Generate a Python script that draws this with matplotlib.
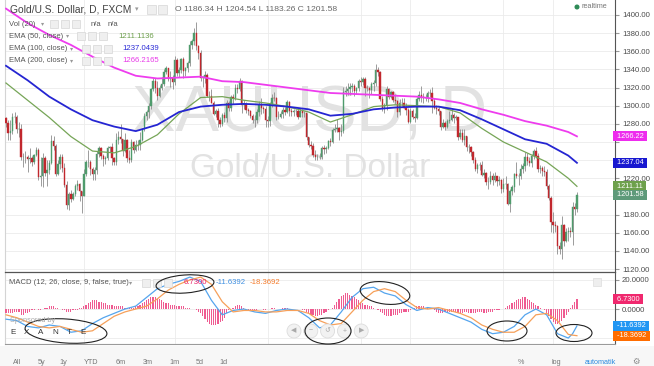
import matplotlib
matplotlib.use("Agg")
import matplotlib.pyplot as plt
from matplotlib.patches import Ellipse, Rectangle, Circle
from matplotlib.transforms import blended_transform_factory
import numpy as np
import pandas as pd

plt.rcParams['font.family'] = ['Liberation Sans', 'DejaVu Sans']

# daily FXCM bars, no bars on Dec 25 / Jan 1
dates = pd.bdate_range('2013-11-11', '2014-11-18')
dates = dates[~dates.isin(pd.to_datetime(['2013-12-25', '2014-01-01']))]

opens = [
    1286, 1281, 1270, 1272, 1287, 1288, 1274, 1274, 1243, 1243, 1244, 1241, 1242, 1238, 1246,
    1251, 1221, 1222, 1242, 1226, 1229, 1237, 1261, 1256, 1225, 1236, 1244, 1231, 1213, 1190, 1203, 1197, 1203, 1211, 1214, 1206,
    1201, 1225, 1238, 1238, 1230, 1225, 1229, 1247, 1253, 1245, 1241, 1242, 1253, 1254, 1242, 1238, 1262, 1266, 1263, 1250, 1262, 1242,
    1240, 1260, 1251, 1257, 1257, 1262, 1274, 1289, 1293, 1300, 1318, 1327, 1320, 1311, 1320, 1324, 1337, 1341, 1329, 1331,
    1326, 1350, 1336, 1339, 1351, 1338, 1341, 1347, 1367, 1371, 1380, 1366, 1358, 1330, 1331, 1334, 1311, 1311, 1303, 1291, 1294,
    1284, 1280, 1290, 1286, 1303, 1298, 1310, 1308, 1320, 1318, 1327, 1301, 1302, 1295, 1294, 1289, 1284, 1284, 1293, 1301, 1297, 1296,
    1284, 1283, 1302, 1309, 1308, 1288, 1288, 1291, 1295, 1293, 1304, 1294, 1293, 1294, 1294, 1288, 1294, 1292, 1292, 1265, 1257, 1256,
    1246, 1244, 1244, 1244, 1253, 1252, 1253, 1261, 1260, 1273, 1274, 1275, 1271, 1272, 1315, 1316, 1318, 1321, 1322, 1316, 1319,
    1327, 1326, 1329, 1320, 1319, 1317, 1324, 1325, 1339, 1337, 1307, 1297, 1301, 1318, 1310, 1315, 1306, 1305, 1293, 1303, 1303, 1298, 1295,
    1282, 1294, 1288, 1286, 1307, 1312, 1310, 1309, 1309, 1314, 1314, 1305, 1298, 1296, 1294, 1277, 1281, 1277, 1283, 1284, 1290,
    1286, 1287, 1265, 1270, 1262, 1267, 1254, 1254, 1249, 1240, 1230, 1235, 1235, 1224, 1226, 1216, 1216, 1222, 1218, 1222, 1217, 1218,
    1208, 1214, 1214, 1192, 1206, 1210, 1225, 1222, 1222, 1230, 1234, 1243, 1239, 1237, 1245, 1250, 1245, 1230, 1231, 1228, 1227, 1212, 1198,
    1172, 1169, 1167, 1145, 1142, 1169, 1151, 1161, 1162, 1161, 1188, 1186.34,
]
highs = [
    1287, 1284, 1284, 1292, 1293, 1290, 1282, 1280, 1248, 1250, 1246, 1253, 1245, 1247, 1255,
    1253, 1243, 1248, 1245, 1240, 1240, 1268, 1267, 1258, 1240, 1247, 1247, 1237, 1217, 1205, 1207, 1205, 1214, 1218, 1215, 1206,
    1230, 1240, 1251, 1240, 1232, 1232, 1250, 1256, 1255, 1247, 1245, 1256, 1256, 1259, 1244, 1270, 1272, 1280, 1263, 1270, 1263, 1251,
    1263, 1261, 1262, 1262, 1271, 1275, 1292, 1295, 1303, 1320, 1331, 1331, 1327, 1323, 1332, 1340, 1344, 1342, 1338, 1334,
    1355, 1353, 1343, 1353, 1354, 1343, 1349, 1371, 1373, 1386, 1392, 1367, 1361, 1333, 1338, 1336, 1316, 1318, 1305, 1296, 1298,
    1288, 1292, 1293, 1306, 1305, 1312, 1313, 1324, 1324, 1331, 1328, 1306, 1304, 1297, 1295, 1291, 1290, 1296, 1305, 1308, 1300, 1300,
    1289, 1304, 1313, 1315, 1310, 1294, 1294, 1299, 1299, 1306, 1305, 1298, 1296, 1296, 1297, 1298, 1296, 1294, 1292, 1266, 1261, 1259,
    1251, 1247, 1248, 1256, 1257, 1256, 1262, 1264, 1275, 1280, 1285, 1277, 1280, 1321, 1322, 1325, 1325, 1325, 1324, 1321, 1329,
    1332, 1332, 1332, 1323, 1321, 1326, 1328, 1346, 1343, 1338, 1311, 1303, 1322, 1320, 1316, 1316, 1313, 1306, 1307, 1309, 1308, 1303, 1297,
    1297, 1296, 1292, 1310, 1316, 1322, 1314, 1313, 1316, 1318, 1321, 1308, 1301, 1299, 1294, 1285, 1283, 1285, 1294, 1297, 1292,
    1290, 1288, 1274, 1274, 1274, 1267, 1258, 1256, 1250, 1243, 1237, 1238, 1239, 1230, 1227, 1221, 1228, 1226, 1227, 1223, 1222, 1219,
    1220, 1223, 1215, 1208, 1213, 1226, 1238, 1226, 1236, 1237, 1249, 1248, 1244, 1247, 1252, 1255, 1248, 1235, 1234, 1234, 1230, 1214, 1200,
    1183, 1173, 1169, 1150, 1178, 1170, 1165, 1166, 1166, 1194, 1193, 1204.54,
]
lows = [
    1276, 1262, 1262, 1269, 1281, 1270, 1266, 1240, 1232, 1237, 1227, 1237, 1234, 1236, 1245,
    1218, 1211, 1210, 1223, 1211, 1225, 1236, 1251, 1223, 1224, 1230, 1227, 1210, 1186, 1185, 1194, 1196, 1200, 1207, 1195, 1182,
    1201, 1223, 1232, 1224, 1218, 1218, 1225, 1244, 1241, 1234, 1236, 1240, 1249, 1235, 1235, 1235, 1258, 1259, 1245, 1249, 1238, 1237,
    1238, 1248, 1250, 1251, 1251, 1261, 1272, 1284, 1286, 1296, 1316, 1314, 1306, 1310, 1317, 1322, 1335, 1327, 1321, 1318,
    1323, 1333, 1332, 1336, 1331, 1333, 1337, 1344, 1363, 1367, 1361, 1352, 1327, 1321, 1325, 1310, 1305, 1303, 1290, 1288, 1277,
    1277, 1278, 1282, 1282, 1294, 1294, 1302, 1306, 1314, 1316, 1292, 1296, 1292, 1290, 1286, 1281, 1277, 1281, 1289, 1291, 1292, 1277,
    1277, 1278, 1299, 1305, 1284, 1285, 1286, 1286, 1290, 1292, 1289, 1289, 1289, 1290, 1285, 1287, 1288, 1288, 1262, 1255, 1252, 1244,
    1240, 1240, 1241, 1241, 1247, 1248, 1252, 1256, 1259, 1271, 1271, 1262, 1267, 1270, 1311, 1312, 1312, 1315, 1311, 1313, 1316,
    1322, 1323, 1311, 1316, 1309, 1313, 1316, 1322, 1333, 1305, 1294, 1292, 1295, 1307, 1308, 1304, 1302, 1288, 1290, 1300, 1297, 1290, 1281,
    1281, 1285, 1282, 1285, 1305, 1304, 1303, 1305, 1304, 1310, 1292, 1296, 1291, 1290, 1273, 1275, 1273, 1275, 1281, 1283, 1281,
    1284, 1262, 1263, 1260, 1257, 1250, 1248, 1245, 1237, 1228, 1226, 1229, 1222, 1220, 1213, 1208, 1214, 1213, 1216, 1211, 1213, 1204,
    1205, 1208, 1190, 1183, 1202, 1205, 1220, 1213, 1219, 1226, 1228, 1235, 1233, 1232, 1241, 1242, 1227, 1226, 1222, 1222, 1208, 1196, 1161,
    1160, 1161, 1137, 1137, 1131, 1145, 1150, 1151, 1155, 1146, 1180, 1183.26,
]
closes = [
    1281, 1270, 1272, 1287, 1288, 1274, 1274, 1243, 1243, 1244, 1241, 1242, 1238, 1246, 1251,
    1221, 1222, 1242, 1226, 1229, 1237, 1261, 1256, 1225, 1236, 1244, 1231, 1213, 1190, 1203, 1197, 1203, 1211, 1214, 1206, 1201,
    1225, 1238, 1238, 1230, 1225, 1229, 1247, 1253, 1245, 1241, 1242, 1253, 1254, 1242, 1238, 1262, 1266, 1263, 1250, 1262, 1242, 1240,
    1260, 1251, 1257, 1257, 1262, 1274, 1289, 1293, 1300, 1318, 1327, 1320, 1311, 1320, 1324, 1337, 1341, 1329, 1331, 1326,
    1350, 1336, 1339, 1351, 1338, 1341, 1347, 1367, 1371, 1380, 1366, 1358, 1330, 1331, 1334, 1311, 1311, 1303, 1291, 1294, 1284,
    1280, 1290, 1286, 1303, 1298, 1310, 1308, 1320, 1318, 1327, 1301, 1302, 1295, 1294, 1289, 1284, 1284, 1293, 1301, 1297, 1296, 1284,
    1283, 1302, 1309, 1308, 1288, 1288, 1291, 1295, 1293, 1304, 1294, 1293, 1294, 1294, 1288, 1294, 1292, 1292, 1265, 1257, 1256, 1246,
    1244, 1244, 1244, 1253, 1252, 1253, 1261, 1260, 1273, 1274, 1275, 1271, 1272, 1315, 1316, 1318, 1321, 1322, 1316, 1319, 1327,
    1326, 1329, 1320, 1319, 1317, 1324, 1325, 1339, 1337, 1307, 1297, 1301, 1318, 1310, 1315, 1306, 1305, 1293, 1303, 1303, 1298, 1295, 1282,
    1294, 1288, 1286, 1307, 1312, 1310, 1309, 1309, 1314, 1314, 1305, 1298, 1296, 1294, 1277, 1281, 1277, 1283, 1284, 1290, 1286,
    1287, 1265, 1270, 1262, 1267, 1254, 1254, 1249, 1240, 1230, 1235, 1235, 1224, 1226, 1216, 1216, 1222, 1218, 1222, 1217, 1218, 1208,
    1214, 1214, 1192, 1206, 1210, 1225, 1222, 1222, 1230, 1234, 1243, 1239, 1237, 1245, 1250, 1245, 1230, 1231, 1228, 1227, 1212, 1198, 1172,
    1169, 1167, 1145, 1142, 1169, 1151, 1161, 1162, 1161, 1188, 1186, 1201.58,
]

# moving averages every 10 bars
ema_bars = [0, 10, 20, 30, 40, 50, 60, 70, 80, 90, 100, 110, 120, 130, 140,
            150, 160, 170, 180, 190, 200, 210, 220, 230, 240, 250, 260, 264]
ema50 = [1325, 1306, 1287, 1266, 1250, 1248, 1255, 1268, 1291, 1309, 1310, 1306, 1303, 1299, 1293,
         1282, 1290, 1299, 1301, 1300, 1299, 1292, 1275, 1260, 1249, 1238, 1220, 1211.1136]
ema100 = [1344, 1328, 1310, 1296, 1284, 1277, 1272, 1279, 1293, 1299, 1301, 1302, 1301, 1299, 1296,
          1289, 1291, 1296, 1298, 1299, 1299, 1295, 1285, 1274, 1263, 1258, 1245, 1237.0439]
ema200 = [1407, 1391, 1378, 1367, 1354, 1342, 1333, 1330, 1331, 1332, 1327, 1326, 1323, 1320, 1317,
          1314, 1313, 1312, 1311, 1310, 1307, 1303, 1296, 1290, 1283, 1278, 1271, 1266.2165]

# MACD (12, 26, 9)
macd_bars = [0, 5, 10, 15, 20, 25, 30, 35, 40, 45, 50, 55, 60, 65, 70, 75, 80, 85, 90, 95,
             100, 105, 110, 115, 120, 125, 130, 135, 140, 145, 150, 155, 160, 165, 170, 175, 180, 185, 190, 195,
             200, 205, 210, 215, 220, 225, 230, 235, 240, 245, 250, 255, 260, 262, 264]
macd = [-7, -8, -12, -13, -11, -12, -16, -15, -10, -6, -3, 0, 2, 8, 14, 17, 19, 22, 19, 6,
        -4, -1, 0, -2, -3, -1, 0, -1, -6, -13, -11, -2, 8, 14, 15, 11, 9, 3, -1, 1,
        0, -3, -6, -9, -14, -17, -16, -12, -4, 0, -4, -17, -20, -17, -11.6392]
signal = [-4, -6, -9, -12, -13, -12, -14, -16, -15, -10, -5, -2, 0, 2, 7, 13, 17, 20, 22, 17,
          5, -2, -1, -1, -2, -2, -1, -1, -3, -8, -11, -10, -2, 6, 12, 14, 12, 6, 1, 0,
          1, -1, -3, -6, -11, -14, -16, -16, -12, -4, -3, -8, -17.5, -18, -18.3692]
hist = [-3, -3, -3, -3, -2, -2, -2, -4, -4, -3, -3,
        -2, -1, -1, 0, -1, -1, 0,
        1, 1, 2, 2, 2, 1, 1,
        0, -1, -1, -2, -2, -2, -1, -1, -1,
        1, 1, 2, 3, 4, 5, 6, 6, 6, 5, 5, 4, 4, 3, 3, 3, 2, 2, 2,
        2, 2, 1, 1, 1, 1, 1, 2, 2, 3,
        4, 5, 6, 7, 8, 8, 8, 7, 7, 6, 5, 4,
        4, 3, 3, 3, 2, 2, 2, 2, 1, 1,
        1, 0, 0, -1, -2, -3,
        -5, -7, -9, -10, -11, -11, -11, -10, -9, -8, -6, -3,
        -1, 0,
        1, 2, 3, 3, 2, 1,
        0, -1, -1, -1, -1, -1, 0, 0, -1, -1, 0,
        0, 1, 1, 0, 0, 0, 1, 1, 1, 0, 0, 0, 0, 0, 0,
        -1, -1, -2, -3, -4, -4, -5, -5, -4, -4, -3, -2, -1, 0,
        1, 3, 5, 7, 9, 10, 11, 11, 10, 9, 8, 7, 6, 5,
        4, 3, 3, 2, 2, 1, 0,
        -1, -2, -3, -4, -5, -5, -5, -4, -4, -4, -3, -3, -2, -2, -2, -1,
        0, 1, 2, 2, 2, 2, 1, 1, 0, 0,
        -1, -2, -3, -3, -3, -2, -2, -2, -2, -2,
        -2, -3, -3, -3, -2, -2, -3, -3, -3, -3, -2, -2, -2, -3, -3, -2, -2, -2, -1, -1, -1, 0, 0,
        1, 2, 3, 4, 5, 6, 7, 7, 8, 8, 7, 6, 5, 4, 3,
        2, 1, 0,
        -1, -3, -5, -7, -9, -10, -10, -9, -8, -6, -4, -2,
        1, 3, 5, 6.73]

tick_months = ['2014-01', '2014-03', '2014-05', '2014-07', '2014-08', '2014-10', '2014-11']
tick_labels = ['2014', 'Mar', 'May', 'Jul', 'Aug', 'Oct', 'Nov']
price_ticks = list(range(1120, 1401, 20))
hidden_price_labels = [1200, 1240, 1260]  # sit under the value tags

W, H = 654, 366
fig = plt.figure(figsize=(W / 100, H / 100), dpi=100)


def box(x0, y0, x1, y1):
    return [x0 / W, 1 - y1 / H, (x1 - x0) / W, (y1 - y0) / H]


ax = fig.add_axes(box(5, 0, 615, 272))
mx = fig.add_axes(box(5, 272, 615, 344), sharex=ax)

o = np.array(opens, float)
h = np.array(highs, float)
l = np.array(lows, float)
c = np.array(closes, float)
xs = np.arange(len(c))
up = c >= o

ax.vlines(xs, l, h, color='#8c8c8c', lw=0.6, zorder=3)
ax.bar(xs[up], (c - o)[up], bottom=o[up], width=0.62, color='#4f9b6c',
       edgecolor='#4f9b6c', lw=0.3, zorder=4)
ax.bar(xs[~up], (o - c)[~up], bottom=c[~up], width=0.62, color='#c1272d',
       edgecolor='#c1272d', lw=0.3, zorder=4)

ax.plot(ema_bars, ema50, color='#76a557', lw=0.9, zorder=5)
ax.plot(ema_bars, ema100, color='#2525d2', lw=1.3, zorder=5)
ax.plot(ema_bars, ema200, color='#ee3cee', lw=1.3, zorder=5)

ax.set_xlim(-0.46, 281.6)
ax.set_ylim(1116.7, 1416.5)

# month positions from the dates
month_pos = [int(np.argmax(dates.strftime('%Y-%m') == m)) for m in tick_months]

for a in (ax, mx):
    a.set_xticks(month_pos)
    a.grid(True, color='#ebebeb', lw=0.6)
    a.set_axisbelow(True)
    a.yaxis.tick_right()
    a.spines['left'].set_color('#d4d4d4')
    a.spines['right'].set_color('#555555')
    a.tick_params(axis='y', length=3, color='#999999', labelsize=5.6,
                  labelcolor='#4d4d4d', pad=2)

ax.set_yticks(price_ticks)
ax.set_yticklabels(['' if v in hidden_price_labels else f'{v:.2f}' for v in price_ticks])
ax.tick_params(axis='x', length=0, labelbottom=False)
ax.spines['top'].set_visible(False)
ax.spines['bottom'].set_visible(False)

# watermark
ax.text(0.5, 0.578, 'XAUUSD, D', transform=ax.transAxes, ha='center', va='center',
        fontsize=47, color='#e2e2e2', zorder=1)
ax.text(0.5, 0.382, 'Gold/U.S. Dollar', transform=ax.transAxes, ha='center', va='center',
        fontsize=24, color='#e2e2e2', zorder=1)

# MACD panel
mx.bar(xs, hist, width=0.55, color='#ef5b91', zorder=3)
mx.plot(macd_bars, macd, color='#55a5ee', lw=0.9, zorder=4)
mx.plot(macd_bars, signal, color='#f6a05a', lw=0.9, zorder=4)
mx.set_ylim(-24.1, 25.5)
mx.set_yticks([-20, 0, 20])
mx.set_yticklabels(['', '0.0000', '20.0000'])
mx.set_xticklabels(tick_labels)
mx.tick_params(axis='x', length=0, labelsize=5.8, labelcolor='#555555', pad=3)
mx.get_xticklabels()[0].set_fontweight('bold')
mx.spines['top'].set_color('#555555')
mx.spines['top'].set_linewidth(0.9)
mx.spines['bottom'].set_color('#9a9a9a')


def tag(a, value, text, color):
    tr = blended_transform_factory(a.transAxes, a.transData)
    a.text(1.0, value, ' ' + text + ' ', transform=tr, ha='left', va='center',
           fontsize=5.3, color='white', clip_on=False, zorder=10,
           bbox=dict(boxstyle='square,pad=0.22', fc=color, ec='none'))


tag(ax, ema200[-1], f'{ema200[-1]:.2f}', '#ee2cee')
tag(ax, ema100[-1], f'{ema100[-1]:.2f}', '#1818d0')
tag(ax, ema50[-1], f'{ema50[-1]:.2f}', '#6ea04c')
tag(ax, closes[-1], f'{closes[-1]:.2f}', '#5e9a7a')
tag(mx, hist[-1], f'{hist[-1]:.4f}', '#f0286e')
tag(mx, macd[-1], f'{macd[-1]:.4f}', '#2196f3')
tag(mx, signal[-1], f'{signal[-1]:.4f}', '#ff6d00')

# overlay in pixel units for the TradingView chrome
ov = fig.add_axes([0, 0, 1, 1])
ov.set_xlim(0, W)
ov.set_ylim(H, 0)
ov.axis('off')


def btn(x, y, s=8):
    ov.add_patch(Rectangle((x, y - s / 2), s, s, fc='#efefef', ec='#d6d6d6', lw=0.5))


gray = '#555555'
ov.text(10, 9.5, 'Gold/U.S. Dollar, D, FXCM', fontsize=7.4, color='#444444', va='center')
ov.text(135, 9.5, '▾', fontsize=5, color='#999999', va='center')
for bx in (147, 158):
    btn(bx, 9.5, 9)
ov.text(175, 9.5, f'O {opens[-1]:.2f} H {highs[-1]:.2f} L {lows[-1]:.2f} C {closes[-1]:.2f}',
        fontsize=6.1, color='#666666', va='center')

ov.text(9, 24, 'Vol (20)', fontsize=5.5, color=gray, va='center')
ov.text(41, 24, '▾', fontsize=4.5, color='#999999', va='center')
for bx in (50, 61, 72):
    btn(bx, 24)
ov.text(91, 24, 'n/a', fontsize=5.5, color=gray, va='center')
ov.text(108, 24, 'n/a', fontsize=5.5, color=gray, va='center')

rows = [(36, 'EMA (50, close)', 66, 77, 118, f'{ema50[-1]:.4f}', '#6b9e4a'),
        (48.5, 'EMA (100, close)', 70, 82, 122, f'{ema100[-1]:.4f}', '#2b2bd6'),
        (61, 'EMA (200, close)', 70, 82, 122, f'{ema200[-1]:.4f}', '#e83be8')]
for y, name, ax_, bx0, vx, val, col in rows:
    ov.text(9, y, name, fontsize=5.5, color=gray, va='center')
    ov.text(ax_, y, '▾', fontsize=4.5, color='#999999', va='center')
    for k in range(3):
        btn(bx0 + 11 * k, y)
    ov.text(vx, y, val, fontsize=5.6, color=col, va='center')

ov.add_patch(Circle((577, 7), 1.8, color='#2e8b57'))
ov.text(582, 7, 'realtime', fontsize=5.2, color='#777777', va='center')

ov.text(9, 283, 'MACD (12, 26, close, 9, false, true)', fontsize=5.5, color=gray, va='center')
ov.text(129, 283, '▾', fontsize=4.5, color='#999999', va='center')
for bx in (142, 153, 164):
    btn(bx, 283)
ov.text(184, 283, f'{hist[-1]:.4f}', fontsize=5.6, color='#e9226b', va='center')
ov.text(216, 283, f'{macd[-1]:.4f}', fontsize=5.6, color='#3d8ee0', va='center')
ov.text(250, 283, f'{signal[-1]:.4f}', fontsize=5.6, color='#f57c2c', va='center')
ov.add_patch(Rectangle((593, 278), 8, 8, fc='#eeeeee', ec='#dddddd', lw=0.5))

ov.text(10, 321, 'Sponsored by', fontsize=5.3, color='#aaaaaa', va='center')
for k, ch in enumerate('EXANTE'):
    ov.text(13 + 14 * k, 332, ch, fontsize=5.8, color='#333333', va='center', ha='center')

for k, g in enumerate(['◀', '−', '↺', '+', '▶']):
    cx = 294 + 16.8 * k
    ov.add_patch(Circle((cx, 331), 7, fc='#f2f2f2', ec='#dcdcdc', lw=0.6))
    ov.text(cx, 331, g, fontsize=5, color='#aaaaaa', ha='center', va='center')

# hand drawn marks
for cx, cy, ew, eh, ang in [(185, 284, 58, 18, -4), (66, 331, 82, 24, 4), (328, 331, 46, 26, 0),
                            (385, 293, 50, 22, 8), (507, 331, 40, 20, 0), (574, 333, 36, 17, 0)]:
    ov.add_patch(Ellipse((cx, cy), ew, eh, angle=ang, fill=False, ec='#222222', lw=0.8))

# bottom toolbar
ov.add_patch(Rectangle((0, 346), W, 20, fc='#f7f7f7', ec='none', zorder=0))
for tx, s in zip([17, 42, 63, 91, 121, 148, 174, 200, 223],
                 ['All', '5y', '1y', 'YTD', '6m', '3m', '1m', '5d', '1d']):
    ov.text(tx, 362, s, fontsize=5.2, color='#777777', ha='center', va='center')
ov.text(521, 362, '%', fontsize=5.2, color='#777777', ha='center', va='center')
ov.text(556, 362, 'log', fontsize=5.2, color='#777777', ha='center', va='center')
ov.text(600, 362, 'automatik', fontsize=5.2, color='#2a8ae0', ha='center', va='center')
ov.text(636, 362, '⚙', fontsize=6, color='#888888', ha='center', va='center')

fig.savefig('out.png', dpi=100)
